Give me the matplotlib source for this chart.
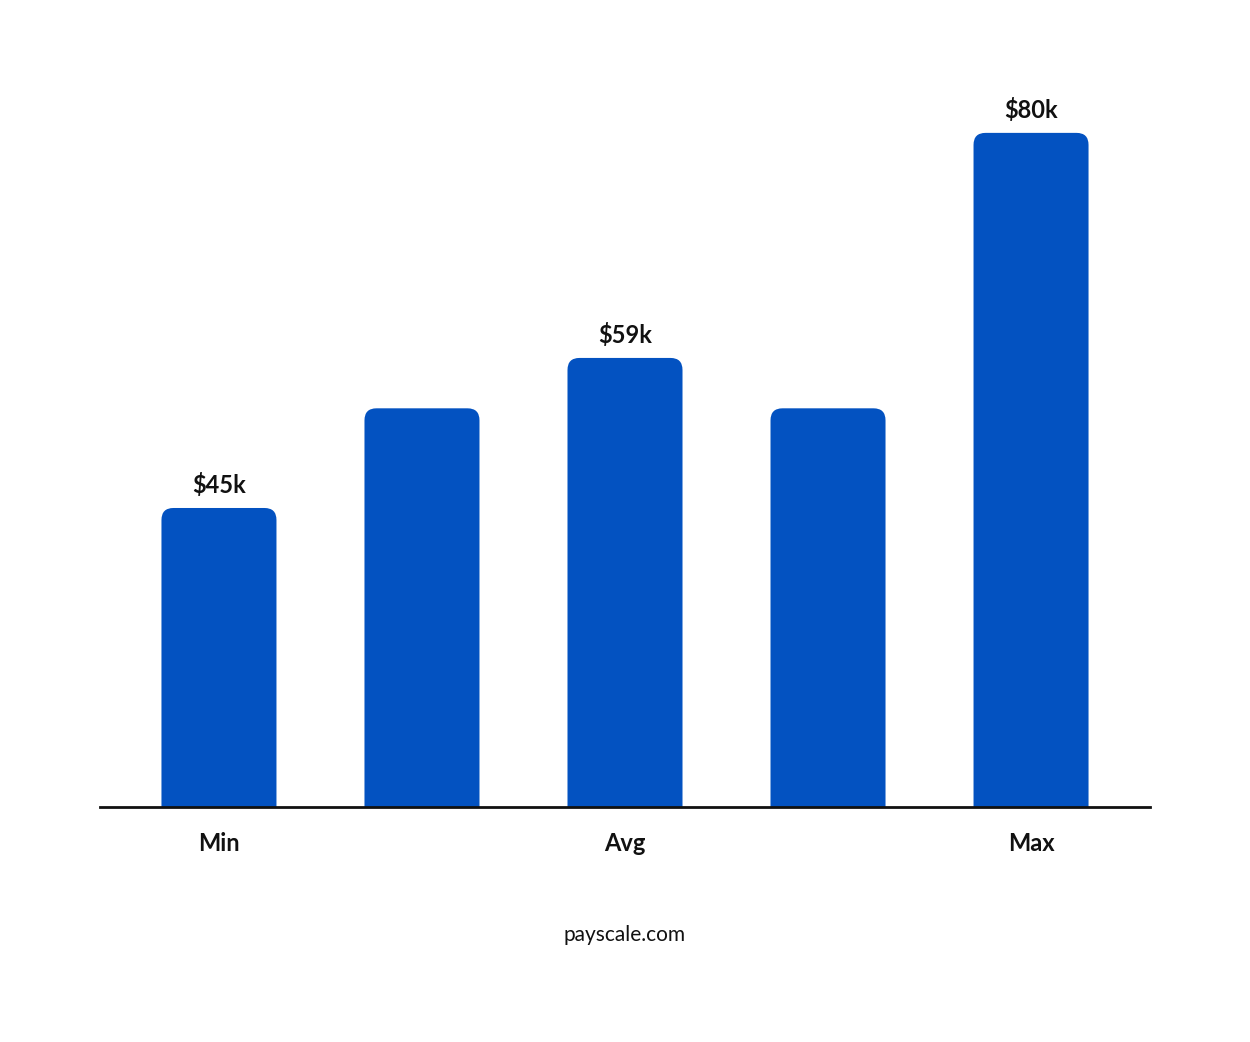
import matplotlib
matplotlib.use("Agg")
import matplotlib.pyplot as plt
from matplotlib.patches import FancyBboxPatch

values = [45, 54.3, 59, 54.3, 80]
value_labels = ["$45k", None, "$59k", None, "$80k"]
tick_pos = [0, 2, 4]
tick_labels = ["Min", "Avg", "Max"]
color = "#0352C1"

plt.rcParams["font.family"] = ["Lato", "DejaVu Sans"]

fig = plt.figure(figsize=(12.5, 10.42), dpi=100)
ax = fig.add_axes([100 / 1250, 1 - 807 / 1042, 1050 / 1250, 747 / 1042])
ymin, ymax = 17.1, 86.8
ax.set_xlim(-0.586, 4.586)
ax.set_ylim(ymin, ymax)

w = 115 / 203
for i, v in enumerate(values):
    bottom = ymin - 3
    p = FancyBboxPatch((i - w / 2, bottom), w, v - bottom,
                       boxstyle="round,pad=0,rounding_size=0.059",
                       mutation_aspect=19, fc=color, ec="none", clip_on=True)
    ax.add_patch(p)
    if value_labels[i]:
        ax.text(i, v + 1.0, value_labels[i], ha="center", va="bottom",
                fontsize=17, fontweight="bold", color="#111")

for s in ["top", "left", "right"]:
    ax.spines[s].set_visible(False)
ax.spines["bottom"].set_linewidth(2)
ax.spines["bottom"].set_color("#111")
ax.set_yticks([])
ax.set_xticks(tick_pos)
ax.set_xticklabels(tick_labels, fontsize=17, fontweight="bold", color="#111")
ax.tick_params(axis="x", length=0, pad=18)

fig.text(0.5, 1 - 935 / 1042, "payscale.com", ha="center", va="center",
         fontsize=15, color="#111")

fig.savefig("out.png", dpi=100)
